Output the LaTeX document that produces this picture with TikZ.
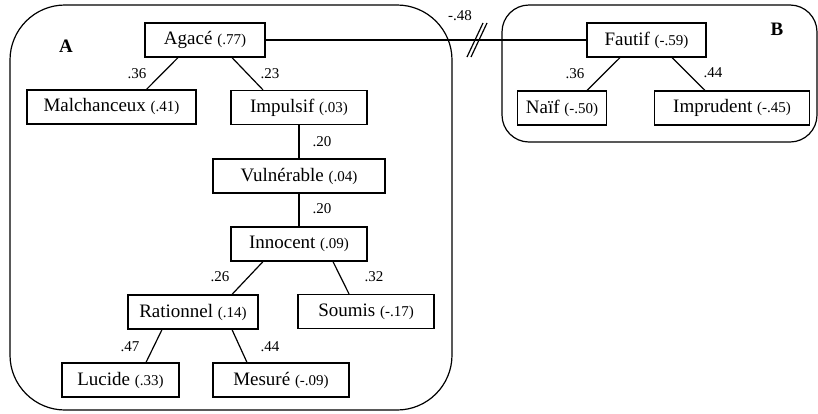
\documentclass[tikz,border=0pt]{standalone}
\usepackage{fontspec}
\setmainfont{Liberation Serif}
\newcommand{\wt}[1]{{\fontsize{15}{18}\selectfont(#1)}}

\begin{document}
\begin{tikzpicture}[x=1pt,y=-1pt,line width=1.2pt,
    box/.style={draw, inner sep=0pt, minimum height=34pt, font=\fontsize{19}{22}\selectfont},
    lab/.style={font=\fontsize{15}{18}\selectfont, inner sep=0pt},
    grp/.style={font=\fontsize{19}{22}\selectfont\bfseries, inner sep=0pt}]
    \useasboundingbox (0,0) rectangle (818,413);

    \draw[rounded corners=55pt] (10,5) rectangle (452,410); %A
    \draw[rounded corners=27pt] (502,5) rectangle (817,142); %B
    \node[grp] (nameA) at (66,46) {A};
    \node[grp] (nameB) at (777,29) {B};

    \foreach \N/\T/\V/\X/\Y/\W in {agace/Agacé/.77/205/40/120,malch/Malchanceux/.41/111.5/107/169,
        impuls/Impulsif/.03/299/107.5/136,vulner/Vulnérable/.04/299/176/172,
        innoc/Innocent/.09/299/244/136,soumis/Soumis/-.17/366/311.5/136,
        ration/Rationnel/.14/193/312/130,lucide/Lucide/.33/120.5/380/117,
        mesure/Mesuré/-.09/281/380/136,fautif/Fautif/-.59/646.5/40/119,
        naif/Naïf/-.50/562/108/89,impru/Imprudent/-.45/732/108/155}
    {\node[box, minimum width=\W pt] (\N) at (\X,\Y) {\T\ \wt{\V}}; }

    \draw ([xshift=-27pt]agace.south) -- ([xshift=35pt]malch.north);
    \draw ([xshift=27pt]agace.south) -- ([xshift=-36pt]impuls.north);
    \draw (impuls.south) -- (vulner.north);
    \draw (vulner.south) -- (innoc.north);
    \draw ([xshift=-36pt]innoc.south) -- ([xshift=39pt]ration.north);
    \draw ([xshift=34pt]innoc.south) -- ([xshift=-17pt]soumis.north);
    \draw ([xshift=-31pt]ration.south) -- ([xshift=25.5pt]lucide.north);
    \draw ([xshift=39pt]ration.south) -- ([xshift=-34pt]mesure.north);
    \draw ([xshift=-26.5pt]fautif.south) -- ([xshift=25pt]naif.north);
    \draw ([xshift=25.5pt]fautif.south) -- ([xshift=-27pt]impru.north);

    % link between the two groups
    \draw (agace.east) -- (fautif.west);
    \coordinate (brk) at (477,40);
    \draw ([xshift=-2pt]brk) ++(-8,17) -- ++(16,-34);
    \draw ([xshift=2pt]brk) ++(-8,17) -- ++(16,-34);

    \node[lab] (w1) at (137,74) {.36}; %malch
    \node[lab] (w2) at (270,74) {.23}; %impuls
    \node[lab] (w3) at (322,142) {.20}; %vulner
    \node[lab] (w4) at (322,209) {.20}; %innoc
    \node[lab] (w5) at (220,277) {.26}; %ration
    \node[lab] (w6) at (374,277) {.32}; %soumis
    \node[lab] (w7) at (130,347) {.47}; %lucide
    \node[lab] (w8) at (270,347) {.44}; %mesure
    \node[lab] (w9) at (575,74) {.36}; %naif
    \node[lab] (w10) at (713,73) {.44}; %impru
    \node[lab] (w11) at (460,16) {-.48}; %link
\end{tikzpicture}
\end{document}
